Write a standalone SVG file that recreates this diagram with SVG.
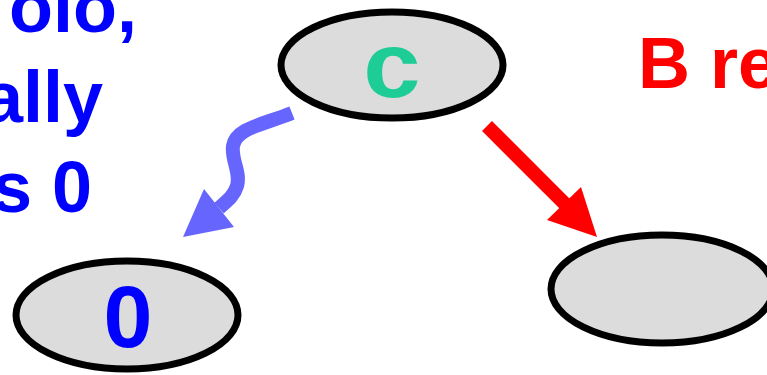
<svg xmlns="http://www.w3.org/2000/svg" width="767" height="375" viewBox="0 0 767 375">
<style>
.node{fill:#dcdcdc;stroke:#000;stroke-width:7}
.t{font-family:"Liberation Sans",Arial,sans-serif;font-weight:bold}
</style>
<rect width="767" height="375" fill="#fff"/>
<g id="labels">
<text class="t" font-size="72" fill="#0000ff" text-anchor="end" x="137" y="32">olo,</text>
<text class="t" font-size="72" fill="#0000ff" text-anchor="end" x="103" y="122">ally</text>
<text class="t" font-size="72" fill="#0000ff" text-anchor="end" x="92" y="212">s 0</text>
<text class="t" font-size="72" fill="#ff0000" x="638" y="88">B re</text>
</g>
<g id="connectors">
<path d="M292,113 C262,125 236,128 233,146 C231,160 241,172 237,186 C234,196 227,201 219,208" fill="none" stroke="#6666ff" stroke-width="14"/>
<polygon points="183,237 204,189 234,227" fill="#6666ff"/>
<line x1="487" y1="126" x2="566" y2="205" stroke="#ff0000" stroke-width="14"/>
<polygon points="597,237 547,220 581,187" fill="#ff0000"/>
</g>
<g id="node-c">
<ellipse class="node" cx="392" cy="65" rx="111" ry="53"/>
<text class="t" font-size="92" fill="#1ecd96" text-anchor="middle" x="392" y="97" transform="translate(392 0) scale(1.12 1) translate(-392 0)">c</text>
</g>
<g id="node-0">
<ellipse class="node" cx="127" cy="315" rx="111" ry="54"/>
<text class="t" font-size="88" fill="#0000ff" text-anchor="middle" x="128" y="347">0</text>
</g>
<g id="node-empty">
<ellipse class="node" cx="662" cy="289" rx="111" ry="54"/>
</g>
</svg>
